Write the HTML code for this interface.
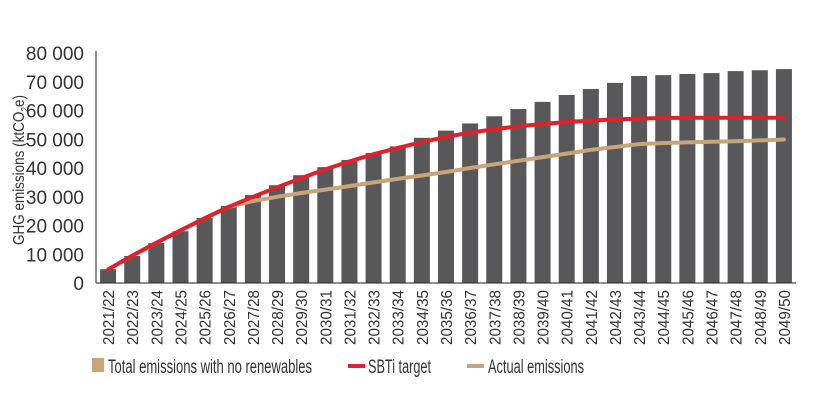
<!DOCTYPE html>
<html><head><meta charset="utf-8"><style>
html,body{margin:0;padding:0;background:#fff;}
svg{display:block;font-family:"Liberation Sans",sans-serif;}
</style></head><body>
<svg id="chart" width="814" height="400" viewBox="0 0 814 400" xmlns="http://www.w3.org/2000/svg">
<g id="grid"></g>
<g id="bars"></g>
<g id="lines"></g>
<g id="axes"></g>
<text transform="translate(24,170) rotate(-90)" text-anchor="middle" font-size="16" fill="#333" textLength="150" lengthAdjust="spacingAndGlyphs">GHG emissions (ktCO<tspan font-size="10" dy="4">2</tspan><tspan dy="-4">e)</tspan></text>
<g>
<rect x="92" y="358" width="12" height="14" fill="#c8a478"/>
<text x="108" y="373" font-size="19" fill="#333" textLength="204" lengthAdjust="spacingAndGlyphs">Total emissions with no renewables</text>
<rect x="348" y="364" width="17" height="4" fill="#e3202a"/>
<text x="368" y="373" font-size="19" fill="#333" textLength="63" lengthAdjust="spacingAndGlyphs">SBTi target</text>
<rect x="467" y="364" width="17" height="4" fill="#c8a478"/>
<text x="488" y="373" font-size="19" fill="#333" textLength="96" lengthAdjust="spacingAndGlyphs">Actual emissions</text>
</g>
</svg>
<script>
const categories = ["2021/22","2022/23","2023/24","2024/25","2025/26","2026/27","2027/28","2028/29","2029/30","2030/31","2031/32","2032/33","2033/34","2034/35","2035/36","2036/37","2037/38","2038/39","2039/40","2040/41","2041/42","2042/43","2043/44","2044/45","2045/46","2046/47","2047/48","2048/49","2049/50"];
const totalValues = [4800,9400,13900,18000,22600,26800,30600,34000,37500,40300,42800,45200,47500,50500,53000,55500,58000,60500,63000,65400,67500,69600,72000,72300,72700,73000,73700,74000,74400];
const sbtiValues = [4700,9500,14000,18300,22500,26500,30000,33300,36500,39500,42300,44800,47000,49000,50800,52300,53500,54500,55300,56000,56500,56900,57200,57400,57500,57500,57500,57500,57500];
const actualValues = [4700,9500,14000,18300,22500,26500,28500,30000,31300,32500,33700,35000,36200,37400,38600,40000,41300,42500,43800,45000,46300,47300,48300,48700,48900,49100,49300,49600,49900];
const yTicks = [0,10000,20000,30000,40000,50000,60000,70000,80000];
const yTickLabels = ["0","10 000","20 000","30 000","40 000","50 000","60 000","70 000","80 000"];

const NS="http://www.w3.org/2000/svg";
const x0=96, x1=796, y0=283, y1=53, yMax=80000;
const step=(x1-x0)/categories.length;
function xPos(i){return x0+step*(i+0.5);}
function yPos(v){return y0-(v/yMax)*(y0-y1);}
function mk(tag,attrs,parent){const e=document.createElementNS(NS,tag);for(const k in attrs)e.setAttribute(k,attrs[k]);parent.appendChild(e);return e;}

const bars=document.getElementById('bars');
totalValues.forEach((v,i)=>{
  const r=mk('rect',{x:xPos(i)-8,y:yPos(v),width:16,height:y0-yPos(v),fill:'#58585a'},bars);
  
  
});
const lines=document.getElementById('lines');
function drawLine(vals,color,name){
  const d=vals.map((v,i)=>(i?'L':'M')+xPos(i).toFixed(1)+','+yPos(v).toFixed(1)).join(' ');
  const p=mk('path',{d:d,fill:'none',stroke:color,'stroke-width':4,'stroke-linejoin':'round','stroke-linecap':'round'},lines);
  
  
}
drawLine(actualValues,'#c8a478','actual-emissions-line');
drawLine(sbtiValues,'#e3202a','sbti-target-line');

const axes=document.getElementById('axes');
const ya=mk('line',{x1:x0,y1:y1-2,x2:x0,y2:y0,stroke:'#222','stroke-width':1},axes);


const xa=mk('line',{x1:x0,y1:y0,x2:x1,y2:y0,stroke:'#222','stroke-width':1},axes);


yTicks.forEach((t,i)=>{
  const tx=mk('text',{x:84,y:yPos(t)+7,'text-anchor':'end','font-size':19,fill:'#333'},axes);
  tx.textContent=yTickLabels[i];
  
  
});
categories.forEach((c,i)=>{
  const tx=mk('text',{transform:'translate('+(xPos(i)+6)+',290) rotate(-90)','text-anchor':'end','font-size':16,fill:'#333',textLength:55,lengthAdjust:'spacingAndGlyphs'},axes);
  tx.textContent=c;
  
  
});
</script>
</body></html>
